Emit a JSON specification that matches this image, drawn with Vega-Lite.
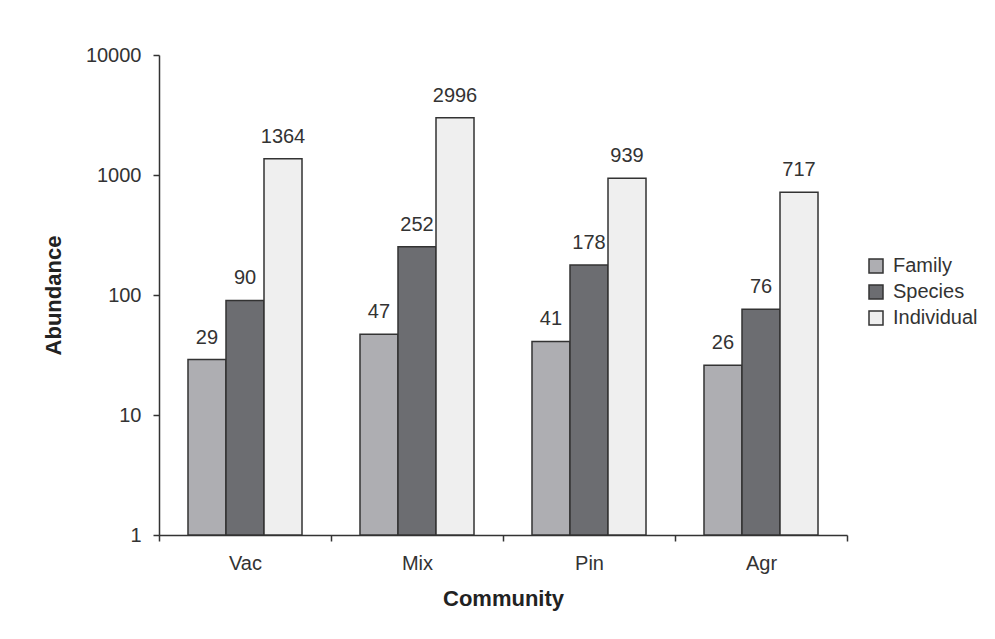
{
  "$schema": "https://vega.github.io/schema/vega-lite/v6.json",
  "width": 688,
  "height": 480,
  "autosize": {"type": "none"},
  "padding": {"left": 159, "top": 55, "right": 148, "bottom": 104},
  "background": "white",
  "config": {
    "view": {"stroke": null},
    "font": "Liberation Sans",
    "axis": {
      "domainColor": "#333333",
      "tickColor": "#333333",
      "domainWidth": 1.5,
      "tickWidth": 1.5,
      "tickSize": 6,
      "labelColor": "#333333",
      "labelFontSize": 20,
      "titleFontSize": 22,
      "titleFontWeight": "bold",
      "titleColor": "#222222",
      "grid": false
    }
  },
  "data": {
    "values": [
      {"Community": "Vac", "Measure": "Family", "Value": 29},
      {"Community": "Vac", "Measure": "Species", "Value": 90},
      {"Community": "Vac", "Measure": "Individual", "Value": 1364},
      {"Community": "Mix", "Measure": "Family", "Value": 47},
      {"Community": "Mix", "Measure": "Species", "Value": 252},
      {"Community": "Mix", "Measure": "Individual", "Value": 2996},
      {"Community": "Pin", "Measure": "Family", "Value": 41},
      {"Community": "Pin", "Measure": "Species", "Value": 178},
      {"Community": "Pin", "Measure": "Individual", "Value": 939},
      {"Community": "Agr", "Measure": "Family", "Value": 26},
      {"Community": "Agr", "Measure": "Species", "Value": 76},
      {"Community": "Agr", "Measure": "Individual", "Value": 717}
    ]
  },
  "encoding": {
    "x": {
      "field": "Community",
      "type": "nominal",
      "sort": ["Vac", "Mix", "Pin", "Agr"],
      "scale": {"paddingInner": 0, "paddingOuter": 0},
      "axis": {"labelAngle": 0, "tickBand": "extent", "labelPadding": 12, "titlePadding": 15, "title": "Community"}
    },
    "xOffset": {
      "field": "Measure",
      "type": "nominal",
      "sort": ["Family", "Species", "Individual"],
      "scale": {"paddingInner": 0, "paddingOuter": 0.763}
    },
    "y": {
      "field": "Value",
      "type": "quantitative",
      "scale": {"type": "log", "domain": [1, 10000]},
      "axis": {"values": [1, 10, 100, 1000, 10000], "format": "d", "labelPadding": 12, "titlePadding": 20, "title": "Abundance"}
    }
  },
  "layer": [
    {
      "mark": {"type": "bar", "stroke": "#333333", "strokeWidth": 1.5},
      "encoding": {
        "y2": {"datum": 1},
        "fill": {
          "field": "Measure",
          "type": "nominal",
          "sort": ["Family", "Species", "Individual"],
          "scale": {"domain": ["Family", "Species", "Individual"], "range": ["#aeaeb2", "#6c6d71", "#efefef"]},
          "legend": {
            "title": null,
            "orient": "none",
            "legendX": 707,
            "legendY": 201,
            "symbolType": "square",
            "symbolSize": 196,
            "symbolStrokeColor": "#333333",
            "symbolStrokeWidth": 1.5,
            "labelFontSize": 20,
            "labelColor": "#333333",
            "labelOffset": 7,
            "rowPadding": 6
          }
        }
      }
    },
    {
      "mark": {"type": "text", "dy": -12, "baseline": "bottom", "fontSize": 20, "color": "#333333"},
      "encoding": {"text": {"field": "Value", "type": "quantitative"}}
    }
  ]
}
